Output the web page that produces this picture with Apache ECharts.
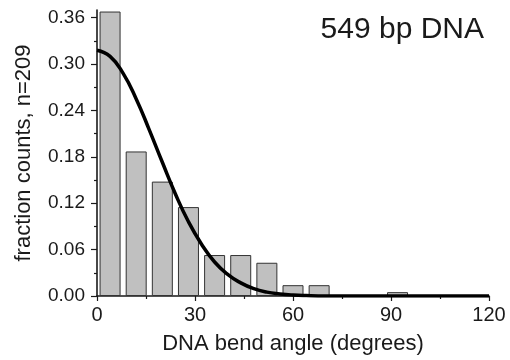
<!DOCTYPE html>
<html>
<head>
<meta charset="utf-8">
<script src="https://cdn.jsdelivr.net/npm/echarts@6/dist/echarts.min.js"></script>
<style>
  html, body { margin: 0; padding: 0; background: #fff; }
  #chart { width: 510px; height: 360px; }
</style>
</head>
<body>
<div id="chart"></div>
<script>
// histogram bins (8 degree wide), centre of each bin
var binCenters = [4, 12, 20, 28, 36, 44, 52, 60, 68, 76, 84, 92];
var fractions = [0.368, 0.187, 0.148, 0.115, 0.053, 0.053, 0.043, 0.014, 0.014, 0, 0, 0.005];

// fitted curve
var fitAngles = [0, 4, 8, 12, 16, 20, 24, 28, 32, 36, 40, 44, 48, 52, 56, 60, 64, 70, 80, 90, 100, 110, 120];
var fitValues = [0.318, 0.310, 0.288, 0.255, 0.215, 0.173, 0.132, 0.096, 0.067, 0.044, 0.028, 0.017, 0.0095, 0.005, 0.0027, 0.0013, 0.0006, 0.0001, 0, 0, 0, 0, 0];

var yTicks = [0, 0.06, 0.12, 0.18, 0.24, 0.30, 0.36];
var yMinorTicks = [0.03, 0.09, 0.15, 0.21, 0.27, 0.33];

var font = 'Liberation Sans, Arial, Helvetica, sans-serif';
var ink = '#1a1a1a';

var barData = [];
for (var i = 0; i < binCenters.length; i++) {
    barData.push([binCenters[i], fractions[i]]);
}
var fitData = [];
for (var j = 0; j < fitAngles.length; j++) {
    fitData.push([fitAngles[j], fitValues[j]]);
}

var chart = echarts.init(document.getElementById('chart'), null, {renderer: 'canvas'});

var option = {
    animation: false,
    title: {
        text: '549 bp DNA',
        right: 21,
        top: 10,
        textStyle: {fontFamily: font, fontSize: 30, fontWeight: 'normal', color: ink}
    },
    grid: {left: 97, right: 21, top: 10, bottom: 60},
    xAxis: {
        type: 'value',
        min: 0,
        max: 120,
        interval: 30,
        name: 'DNA bend angle (degrees)',
        nameLocation: 'middle',
        nameGap: 37,
        nameTextStyle: {fontFamily: font, fontSize: 22, color: ink},
        axisLine: {onZero: false, lineStyle: {color: ink, width: 1.6}},
        axisTick: {inside: false, length: 5, lineStyle: {color: ink, width: 1.2}},
        minorTick: {show: true, splitNumber: 2, length: 3, lineStyle: {color: ink, width: 1.2}},
        axisLabel: {fontFamily: font, fontSize: 20, color: ink, margin: 9},
        splitLine: {show: false}
    },
    yAxis: [{
        type: 'value',
        min: 0,
        max: 0.37,
        name: 'fraction counts, n=209',
        nameLocation: 'middle',
        nameGap: 62,
        nameTextStyle: {fontFamily: font, fontSize: 22, color: ink},
        axisLine: {show: true, lineStyle: {color: ink, width: 1.6}},
        axisTick: {show: true, length: 6, customValues: yTicks, lineStyle: {color: ink, width: 1.2}},
        axisLabel: {
            fontFamily: font, fontSize: 19, color: ink, margin: 12,
            customValues: yTicks,
            formatter: function (v) { return v.toFixed(2); }
        },
        splitLine: {show: false}
    }, {
        // second copy of the axis only for the short minor ticks
        type: 'value',
        position: 'left',
        min: 0,
        max: 0.37,
        axisLine: {show: false},
        axisTick: {show: true, length: 3, customValues: yMinorTicks, lineStyle: {color: ink, width: 1.2}},
        axisLabel: {show: false},
        splitLine: {show: false}
    }],
    series: [{
        type: 'bar',
        data: barData,
        barWidth: 21,
        itemStyle: {color: '#c0c0c0', borderColor: '#333', borderWidth: 1}
    }, {
        type: 'line',
        data: fitData,
        smooth: true,
        showSymbol: false,
        symbol: 'none',
        lineStyle: {color: '#000', width: 3.5},
        z: 5
    }]
};

chart.setOption(option);
</script>
</body>
</html>
